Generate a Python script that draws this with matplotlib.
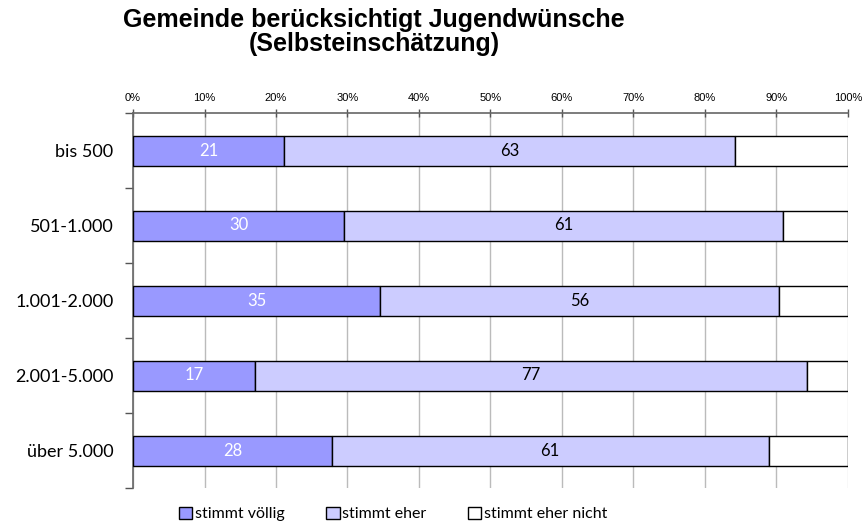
import numpy as np
import matplotlib
matplotlib.use("Agg")
import matplotlib.pyplot as plt
from matplotlib.patches import Patch

# values (percent)
categories = ["bis 500", "501-1.000", "1.001-2.000", "2.001-5.000", "über 5.000"]
voellig = [21.1, 29.5, 34.6, 17.0, 27.8]
eher = [63.1, 61.4, 55.8, 77.3, 61.1]
nicht = [100 - a - b for a, b in zip(voellig, eher)]
series_names = ["stimmt völlig", "stimmt eher", "stimmt eher nicht"]
colors = ["#9999ff", "#ccccff", "#ffffff"]
xticks = list(range(0, 101, 10))

label_font = "Lato"

fig = plt.figure(figsize=(8.64, 5.26), dpi=100)
ax = fig.add_axes([133/864, 1 - 488/526, 715/864, 375/526])

y = np.arange(len(categories))
left = np.zeros(len(categories))
for vals, col in zip([voellig, eher, nicht], colors):
    ax.barh(y, vals, left=left, height=0.4, color=col,
            edgecolor="black", linewidth=1.0, zorder=3)
    left += np.array(vals)

# value labels in the first two segments
for i in range(len(categories)):
    ax.text(voellig[i] / 2, y[i], f"{round(voellig[i])}", ha="center", va="center",
            color="white", fontsize=12, family=label_font, zorder=4)
    ax.text(voellig[i] + eher[i] / 2, y[i], f"{round(eher[i])}", ha="center",
            va="center", color="black", fontsize=12, family=label_font, zorder=4)

ax.set_xlim(0, 100)
ax.set_ylim(len(categories) - 0.5, -0.5)

ax.xaxis.tick_top()
ax.set_xticks(xticks)
ax.set_xticklabels([f"{t}%" for t in xticks], fontsize=8, family="Liberation Sans")
ax.tick_params(axis="x", direction="inout", length=6, width=1, color="#555555", pad=4)
for t in xticks:
    ax.axvline(t, color="#dddddd" if t == 100 else "#bbbbbb", lw=1, zorder=1)

ax.set_yticks(y)
ax.set_yticklabels(categories, fontsize=13, family=label_font)
ax.tick_params(axis="y", length=0, pad=14)
ax.set_yticks(np.arange(-0.5, len(categories)), minor=True)
ax.tick_params(axis="y", which="minor", length=6, width=1, color="#555555")

for s in ["right", "bottom"]:
    ax.spines[s].set_visible(False)
for s in ["left", "top"]:
    ax.spines[s].set_color("#666666")
    ax.spines[s].set_linewidth(1.2)

fig.text(374/864, 1 - 27/526, "Gemeinde berücksichtigt Jugendwünsche",
         ha="center", va="baseline", fontsize=18, fontweight="bold",
         family="Liberation Sans")
fig.text(374/864, 1 - 51/526, "(Selbsteinschätzung)",
         ha="center", va="baseline", fontsize=18, fontweight="bold",
         family="Liberation Sans")

handles = [Patch(facecolor=c, edgecolor="black", linewidth=1) for c in colors]
fig.legend(handles, series_names, loc="center", bbox_to_anchor=(393/864, 1 - 514/526),
           ncol=3, frameon=False, prop={"family": label_font, "size": 11.5},
           handlelength=0.85, handleheight=0.85, handletextpad=0.15, columnspacing=2.6)

fig.savefig("out.png", dpi=100)
